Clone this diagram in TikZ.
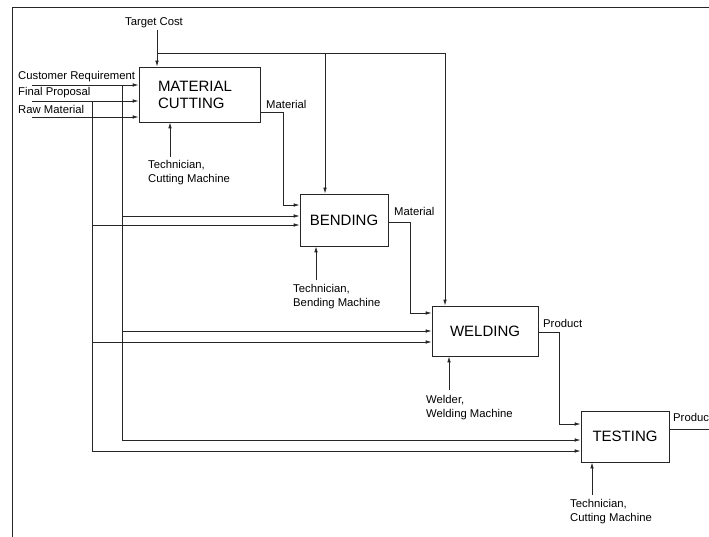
\documentclass[tikz,border=0pt]{standalone}
\usepackage{fontspec}
\setmainfont{Liberation Sans}
\usetikzlibrary{arrows.meta,calc}
\begin{document}
\begin{tikzpicture}[x=1pt,y=-1pt,
 ln/.style={draw=black!85, line width=0.8pt},
 arr/.style={ln, -{Latex[length=6pt,width=3.6pt]}},
 proc/.style={draw=black!85, line width=0.8pt, inner sep=0pt, font=\fontsize{15}{17}\selectfont},
 lbl/.style={font=\fontsize{11.3}{14}\selectfont, inner sep=0pt, align=left},
]
\useasboundingbox (0,0) rectangle (709,537);
% frame
\draw[ln] (12,537) -- (12,7) -- (709,7);
% process boxes
\node[proc, minimum width=121pt, minimum height=55pt, text width=83pt, align=left] (cut) at (199.5,94.5) {MATERIAL\\CUTTING};
\node[proc, minimum width=88pt, minimum height=52pt] (bend) at (344,220) {BENDING};
\node[proc, minimum width=106pt, minimum height=50pt] (weld) at (485,331) {WELDING};
\node[proc, minimum width=88pt, minimum height=51pt] (test) at (625,436.5) {TESTING};
% target cost
\node[lbl] (tclab) at (154,22.5) {Target Cost};
\coordinate (tctop) at (157,30);
\coordinate (tcj) at (157,53);
\coordinate (tcm) at (325,53);
\coordinate (tcr) at (445,53);
\draw[arr] (tctop) -- (tctop |- cut.north);
\draw[ln] (tcj) -- (tcr);
\draw[arr] (tcm) -- (tcm |- bend.north);
\draw[arr] (tcr) -- (tcr |- weld.north);
% inputs
\node[lbl, anchor=base west] (crlab) at (18,79.5) {Customer Requirement};
\node[lbl, anchor=base west] (fplab) at (18,95.5) {Final Proposal};
\node[lbl, anchor=base west] (rmlab) at (18,114) {Raw Material};
\coordinate (crs) at (32,85);
\coordinate (fps) at (32,101);
\coordinate (rms) at (32,117);
\draw[arr] (crs) -- (crs -| cut.west);
\draw[arr] (fps) -- (fps -| cut.west);
\draw[arr] (rms) -- (rms -| cut.west);
% customer requirement branch
\coordinate (v1) at (122,85);
\coordinate (b1) at (122,216);
\coordinate (w1) at (122,331);
\coordinate (t1) at (122,440);
\draw[ln] (v1) -- (t1);
\draw[arr] (b1) -- (b1 -| bend.west);
\draw[arr] (w1) -- (w1 -| weld.west);
\draw[arr] (t1) -- (t1 -| test.west);
% final proposal branch
\coordinate (v2) at (92,101);
\coordinate (b2) at (92,225);
\coordinate (w2) at (92,342);
\coordinate (t2) at (92,451);
\draw[ln] (v2) -- (t2);
\draw[arr] (b2) -- (b2 -| bend.west);
\draw[arr] (w2) -- (w2 -| weld.west);
\draw[arr] (t2) -- (t2 -| test.west);
% material cut -> bend
\coordinate (m1a) at (283,112);
\coordinate (m1b) at (283,205);
\draw[arr] (m1a -| cut.east) -- (m1a) -- (m1b) -- (m1b -| bend.west);
\node[lbl, anchor=base west] (mat1) at (266,109) {Material};
% material bend -> weld
\coordinate (m2a) at (410,222);
\coordinate (m2b) at (410,313);
\draw[arr] (m2a -| bend.east) -- (m2a) -- (m2b) -- (m2b -| weld.west);
\node[lbl, anchor=base west] (mat2) at (394,216) {Material};
% product weld -> test
\coordinate (p1a) at (559,332);
\coordinate (p1b) at (559,424);
\draw[arr] (p1a -| weld.east) -- (p1a) -- (p1b) -- (p1b -| test.west);
\node[lbl, anchor=base west] (prod1) at (543,327.5) {Product};
% product out
\coordinate (pout) at (712,429);
\draw[ln] (pout -| test.east) -- (pout);
\node[lbl, anchor=base west] (prod2) at (673,421) {Product};
% mechanisms
\coordinate (mc) at (170,157);
\draw[arr] (mc) -- (mc |- cut.south);
\node[lbl, anchor=north west] (mclab) at (148,160) {Technician,\\Cutting Machine};
\coordinate (mb) at (316,280);
\draw[arr] (mb) -- (mb |- bend.south);
\node[lbl, anchor=north west] (mblab) at (293,284.5) {Technician,\\Bending Machine};
\coordinate (mw) at (449,390);
\draw[arr] (mw) -- (mw |- weld.south);
\node[lbl, anchor=north west] (mwlab) at (426,395) {Welder,\\Welding Machine};
\coordinate (mt) at (592,495);
\draw[arr] (mt) -- (mt |- test.south);
\node[lbl, anchor=north west] (mtlab) at (570,499) {Technician,\\Cutting Machine};
\end{tikzpicture}
\end{document}
